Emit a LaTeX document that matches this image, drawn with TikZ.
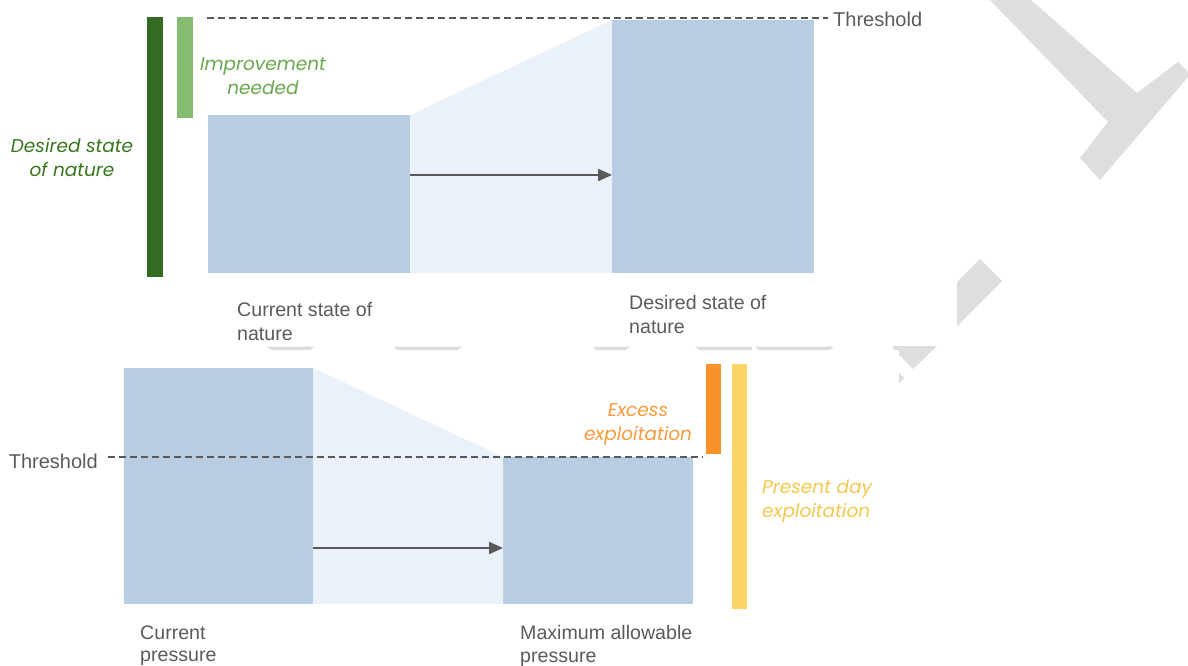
\documentclass[tikz,border=0pt]{standalone}
\usepackage{fontspec}
\setmainfont{Liberation Sans}
\newfontfamily\itfont{Poppins}
\usetikzlibrary{arrows.meta}
\definecolor{boxblue}{HTML}{B8CDE1}
\definecolor{lightblue}{HTML}{EBF1F8}
\definecolor{lngray}{HTML}{595959}
\definecolor{txtgray}{HTML}{5B5B5B}
\definecolor{wmgray}{HTML}{DEDEDE}
\definecolor{dkgreen}{HTML}{336B22}
\definecolor{ltgreen}{HTML}{86BC6F}
\definecolor{dkgreentxt}{HTML}{38761D}
\definecolor{ltgreentxt}{HTML}{6AA84F}
\definecolor{orangebar}{HTML}{F9922A}
\definecolor{orangetxt}{HTML}{F89B3D}
\definecolor{yellowbar}{HTML}{FBD666}
\definecolor{yellowtxt}{HTML}{F2C94F}
\tikzset{
  box/.style={fill=boxblue, inner sep=0pt, outer sep=0pt, anchor=north west},
  bar/.style={inner sep=0pt, outer sep=0pt, anchor=north west, minimum width=16pt},
  lbl/.style={text=txtgray, font=\fontsize{19.6}{24}\selectfont, inner sep=0pt, align=left, anchor=north west},
  lblb/.style={text=txtgray, font=\fontsize{19.6}{22.5}\selectfont, inner sep=0pt, align=left, anchor=north west},
  ilbl/.style={font=\itfont\itshape\fontsize{18.5}{24}\selectfont, inner sep=0pt, align=center},
  thrline/.style={draw=lngray, line width=1.4pt, dash pattern=on 7pt off 4pt},
  arr/.style={draw=lngray, line width=2pt, -{Triangle[length=14pt,width=12pt]}},
  wm/.style={fill=wmgray, draw=none}
}
\begin{document}
\begin{tikzpicture}[x=1pt,y=-1pt]
\useasboundingbox[fill=white] (0,0) rectangle (1188,665);
% watermark fragments
\fill[wm] (990,0) -- (1031,0) -- (1137,93) -- (1178,62) -- (1188,72) -- (1188,77) -- (1100,180) -- (1080,158) -- (1108,122) -- cycle;
\fill[wm] (957,282) -- (980,259) -- (1002,281) -- (957,326) -- cycle;
\fill[wm] (892,346) -- (937,346) -- (913,369) -- (899,355) -- (899,350) -- (894,350) -- cycle;
\fill[wm] (899,373) -- (904,378) -- (899,383) -- cycle;
\fill[wm] (266,346.5) -- (315,346.5) -- (310,350) -- (272,350) -- cycle;
\fill[wm] (393,346.5) -- (462,346.5) -- (458,350) -- (397,350) -- cycle;
\fill[wm] (592,346.5) -- (630,346.5) -- (626,350) -- (596,350) -- cycle;
\fill[wm] (695,346.5) -- (752,346.5) -- (752,350) -- (699,350) -- cycle;
\fill[wm] (755,346.5) -- (834,346.5) -- (830,350) -- (758,350) -- cycle;

% ---------- top diagram ----------
\node[box, minimum width=202pt, minimum height=158pt] (cur) at (208,115) {};
\node[box, minimum width=202pt, minimum height=253pt] (des) at (612,20) {};
\fill[lightblue] (cur.north east) -- (des.north west) -- (des.south west) -- (cur.south east) -- cycle;
\draw[arr] (cur.east |- 0,175) -- (des.west |- 0,175);

\node[bar, fill=dkgreen, minimum height=260pt] (bdg) at (147,17) {};
\node[bar, fill=ltgreen, minimum height=101pt] (blg) at (177,17) {};

\node[text=txtgray, font=\fontsize{20}{24}\selectfont, inner sep=0pt, anchor=west] (thr1) at (833,19) {Threshold};
\coordinate (t1a) at (207,18);
\draw[thrline] (t1a) -- ([xshift=-5pt]thr1.west |- t1a);

\node[ilbl, text=ltgreentxt, anchor=north] (imp) at (263,57) {Improvement\\needed};
\node[ilbl, text=dkgreentxt, anchor=north] (dsn) at (72,138) {Desired state\\of nature};
\node[lbl] (l1) at (237,302) {Current state of\\nature};
\node[lbl] (l2) at (629,295) {Desired state of\\nature};

% ---------- bottom diagram ----------
\node[box, minimum width=189pt, minimum height=236pt] (cp) at (124,368) {};
\node[box, minimum width=190pt, minimum height=147pt] (map) at (503,457) {};
\fill[lightblue] (cp.north east) -- (map.north west) -- (map.south west) -- (cp.south east) -- cycle;
\draw[arr] (cp.east |- 0,548) -- (map.west |- 0,548);

\node[text=txtgray, font=\fontsize{20}{24}\selectfont, inner sep=0pt, anchor=east] (thr2) at (98,461) {Threshold};
\coordinate (t2b) at (703,457);
\draw[thrline] ([xshift=10pt]thr2.east |- t2b) -- (t2b);

\node[bar, fill=orangebar, minimum width=15pt, minimum height=90pt] (bor) at (706,364) {};
\node[bar, fill=yellowbar, minimum width=15pt, minimum height=245pt] (byl) at (732,364) {};

\node[ilbl, text=orangetxt, anchor=north] (exc) at (638,403) {Excess\\exploitation};
\node[ilbl, text=yellowtxt, anchor=north west, align=left] (pde) at (762,480) {Present day\\exploitation};
\node[lblb] (l3) at (140,625.5) {Current\\pressure};
\node[lblb] (l4) at (520,625.5) {Maximum allowable\\pressure};
\end{tikzpicture}
\end{document}
